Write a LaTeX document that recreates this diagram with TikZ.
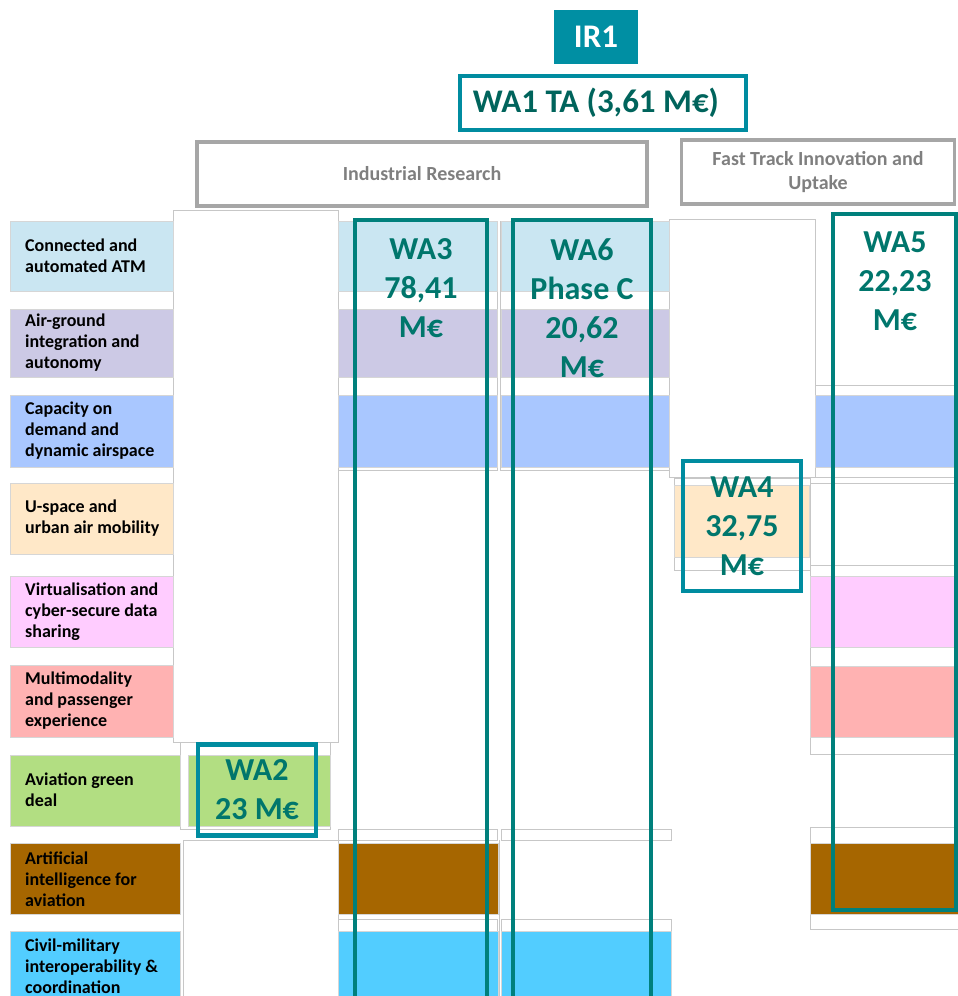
\documentclass[tikz,border=0pt]{standalone}
\usepackage{fontspec}
\setmainfont{Carlito}
\definecolor{atm}{RGB}{202,230,242}
\definecolor{airground}{RGB}{204,201,229}
\definecolor{capacity}{RGB}{169,199,255}
\definecolor{uspace}{RGB}{255,232,200}
\definecolor{virtual}{RGB}{255,204,255}
\definecolor{multimodal}{RGB}{255,178,178}
\definecolor{greendeal}{RGB}{178,222,130}
\definecolor{aiaviation}{RGB}{166,102,0}
\definecolor{civmil}{RGB}{82,205,255}
\definecolor{wateal}{RGB}{0,128,124}
\definecolor{wbteal}{RGB}{0,140,160}
\definecolor{watxt}{RGB}{0,118,108}
\definecolor{irfill}{RGB}{0,143,163}
\definecolor{boxgray}{RGB}{166,166,166}
\definecolor{headtxt}{RGB}{127,127,127}
\tikzstyle{gridline}=[draw=black!22, line width=0.6pt]
\tikzstyle{band}=[draw=black!16, line width=0.5pt]
\tikzstyle{wabox}=[draw=wateal, line width=4.5pt]
\tikzset{wbbox/.style={draw=wbteal, line width=4.5pt, align=center, text=watxt, font=\bfseries\fontsize{32}{39}\selectfont}}
\tikzset{theme/.style={anchor=west, align=left, inner sep=0pt, font=\bfseries\fontsize{18}{21}\selectfont}}
\tikzset{watext/.style={anchor=north, align=center, inner sep=0pt, text=watxt, font=\bfseries\fontsize{32}{39}\selectfont}}
\tikzset{headbox/.style={draw=boxgray, line width=3.5pt, minimum height=64pt, text=headtxt, align=center, font=\bfseries\fontsize{20}{24}\selectfont}}

\begin{document}
\begin{tikzpicture}[x=1pt,y=-1pt]
  \useasboundingbox (0,0) rectangle (958,996);
  \clip (0,0) rectangle (958,996);

  %% Header
  \draw (596,37) node[fill=irfill, minimum width=84pt, minimum height=54pt, text=white, font=\bfseries\fontsize{33}{36}\selectfont] (IR1) {IR1};
  \draw (603,103) node[draw=wbteal, line width=4.5pt, minimum width=286pt, minimum height=54pt] (WA1) {};
  \draw (596,103) node[text=watxt!85!black, font=\bfseries\fontsize{33}{36}\selectfont] (WA1txt) {WA1 TA (3,61 M€)};
  \draw (422,174) node[headbox, minimum width=450pt] (IR) {Industrial Research};
  \draw (818,172) node[headbox, minimum width=273pt] (FT) {Fast Track Innovation and\\Uptake};

  %% White cells
  \draw[gridline] (173,210) rectangle (338,742);
  \draw[gridline] (338,221) rectangle (497,470);
  \draw[gridline] (500,221) rectangle (669,470);
  \draw[gridline] (669,219) rectangle (815,477);
  \draw[gridline] (674,478) rectangle (810,570);
  \draw[gridline] (815,385) rectangle (958,477);
  \draw[gridline] (810,483) rectangle (958,565);
  \draw[gridline] (810,565) rectangle (958,754);
  \draw[gridline] (180,742) rectangle (330,829);
  \draw[gridline] (338,829) rectangle (497,840);
  \draw[gridline] (501,829) rectangle (671,840);
  \draw[gridline] (338,919) rectangle (497,931);
  \draw[gridline] (501,919) rectangle (671,931);
  \draw[gridline] (499,840) -- (499,1005);
  \draw[gridline] (183,840) rectangle (338,1005);
  \draw[gridline] (810,827) rectangle (958,929);

  %% Theme rows
  \fill[atm, band] (10,221) rectangle (173,291);
  \fill[airground, band] (10,309) rectangle (173,377);
  \fill[capacity, band] (10,395) rectangle (173,467);
  \fill[uspace, band] (10,483) rectangle (173,554);
  \fill[virtual, band] (10,576) rectangle (173,647);
  \fill[multimodal, band] (10,665) rectangle (173,737);
  \fill[greendeal, band] (10,755) rectangle (180,826);
  \fill[aiaviation, band] (10,843) rectangle (180,914);
  \fill[civmil, band] (10,931) rectangle (180,1005);

  \fill[greendeal, band] (188,755) rectangle (330,826);

  \fill[atm, band] (338,221) rectangle (497,291);
  \fill[airground, band] (338,309) rectangle (497,377);
  \fill[capacity, band] (338,395) rectangle (497,467);
  \fill[aiaviation, band] (338,843) rectangle (498,914);
  \fill[civmil, band] (338,931) rectangle (498,1005);

  \fill[atm, band] (501,221) rectangle (669,291);
  \fill[airground, band] (501,309) rectangle (669,377);
  \fill[capacity, band] (501,395) rectangle (669,467);
  \fill[civmil, band] (501,931) rectangle (671,1005);

  \fill[uspace, band] (674,485) rectangle (809,557);

  \fill[capacity, band] (815,395) rectangle (958,467);
  \fill[virtual, band] (810,576) rectangle (958,647);
  \fill[multimodal, band] (810,666) rectangle (958,737);
  \fill[aiaviation, band] (810,843) rectangle (958,914);

  \draw (25,256) node[theme] (T1) {Connected and\\automated ATM};
  \draw (25,343) node[theme] (T2) {Air-ground\\integration and\\autonomy};
  \draw (25,431) node[theme] (T3) {Capacity on\\demand and\\dynamic airspace};
  \draw (25,518) node[theme] (T4) {U-space and\\urban air mobility};
  \draw (25,612) node[theme] (T5) {Virtualisation and\\cyber-secure data\\sharing};
  \draw (25,701) node[theme] (T6) {Multimodality\\and passenger\\experience};
  \draw (25,790) node[theme] (T7) {Aviation green\\deal};
  \draw (25,879) node[theme] (T8) {Artificial\\intelligence for\\aviation};
  \draw (25,966) node[theme] (T9) {Civil-military\\interoperability \&\\coordination};

  %% Work areas
  \draw[wabox] (355,220) rectangle (487,1010);
  \draw[wabox] (513,220) rectangle (651,1010);
  \draw[wabox] (833,214) rectangle (956,910);
  \draw (421,238) node[watext] (WA3) {WA3\\78,41\\M€};
  \draw (582,238) node[watext] (WA6) {WA6\\Phase C\\20,62\\M€};
  \draw (895,232) node[watext] (WA5) {WA5\\22,23\\M€};
  \draw (742,526) node[wbbox, minimum width=118pt, minimum height=130pt] (WA4) {WA4\\32,75\\M€};
  \draw (257,790) node[wbbox, minimum width=118pt, minimum height=91pt] (WA2) {WA2\\23 M€};
\end{tikzpicture}
\end{document}
